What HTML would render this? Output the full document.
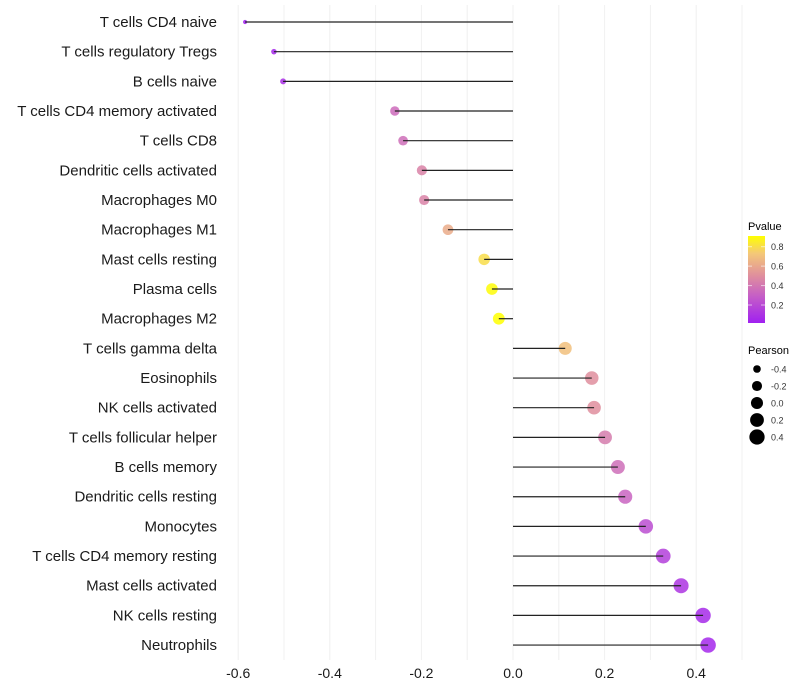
<!DOCTYPE html>
<html><head><meta charset="utf-8"><style>
html,body{margin:0;padding:0;background:#fff;}
svg{display:block;font-family:"Liberation Sans",sans-serif;}
</style></head><body>
<svg id="chart" width="800" height="700">
<defs><linearGradient id="pgrad" x1="0" y1="1" x2="0" y2="0">
<stop offset="0" stop-color="#a020f0"/><stop offset="0.3" stop-color="#c45cc8"/><stop offset="0.55" stop-color="#e0909c"/><stop offset="0.8" stop-color="#f4c878"/><stop offset="1" stop-color="#ffff00"/></linearGradient></defs>
<g id="grid"></g>
<g id="dots"></g>
<g id="marks"></g>
<g id="ylab"></g>
<g id="xlab"></g>
<g>
<text x="748" y="230" font-size="11">Pvalue</text>
<rect x="748" y="236" width="17" height="87" fill="url(#pgrad)"/>
<g id="cbticks"></g>
</g>
<g id="sizeleg">
<text x="748" y="354" font-size="11">Pearson</text>
</g>
</svg>
<script>
const cells=["T cells CD4 naive","T cells regulatory  Tregs","B cells naive","T cells CD4 memory activated","T cells CD8","Dendritic cells activated","Macrophages M0","Macrophages M1","Mast cells resting","Plasma cells","Macrophages M2","T cells gamma delta","Eosinophils","NK cells activated","T cells follicular helper","B cells memory","Dendritic cells resting","Monocytes","T cells CD4 memory resting","Mast cells activated","NK cells resting","Neutrophils"];
const pearson=[-0.585,-0.522,-0.502,-0.258,-0.240,-0.199,-0.194,-0.142,-0.063,-0.046,-0.031,0.114,0.172,0.177,0.201,0.229,0.245,0.290,0.328,0.367,0.415,0.426];
const pvalue=[0.01,0.05,0.08,0.35,0.36,0.45,0.45,0.62,0.8,0.9,0.95,0.7,0.5,0.5,0.42,0.36,0.32,0.22,0.16,0.11,0.06,0.05];
const xticks=[-0.6,-0.4,-0.2,0.0,0.2,0.4];
const cbTicks=[0.2,0.4,0.6,0.8];
const sizeTicks=[-0.4,-0.2,0.0,0.2,0.4];
const NS="http://www.w3.org/2000/svg";
const x=v=>513+v*458;
const y=i=>22+i*29.67;
const r=v=>Math.sqrt(4+55*Math.max(0,v+0.59));
function mk(t,p,a){const e=document.createElementNS(NS,t);for(const k in a)e.setAttribute(k,a[k]);p.appendChild(e);return e;}
const stops=[[0,[160,32,240]],[0.3,[196,92,200]],[0.55,[224,144,156]],[0.8,[244,200,120]],[1,[255,255,0]]];
function col(p){const t=Math.max(0,Math.min(1,(p-0.015)/0.895));for(let i=1;i<stops.length;i++){if(t<=stops[i][0]){const a=stops[i-1],b=stops[i],f=(t-a[0])/(b[0]-a[0]);const c=a[1].map((v,k)=>Math.round(v+(b[1][k]-v)*f));return `rgb(${c})`;}}return "rgb(255,255,0)";}
const g=document.getElementById('grid');
for(let v=-0.6;v<=0.55;v+=0.1){const l=mk('line',g,{x1:x(v),x2:x(v),y1:5,y2:660,stroke:'#f0f0f0','stroke-width':1});}
const m=document.getElementById('marks'),dg=document.getElementById('dots'),yl=document.getElementById('ylab');
cells.forEach((c,i)=>{
 const d=mk('circle',dg,{cx:x(pearson[i]),cy:y(i),r:r(pearson[i]),fill:col(pvalue[i]),'fill-opacity':0.85});
 
 
 const l=mk('line',m,{x1:x(0),x2:x(pearson[i]),y1:y(i),y2:y(i),stroke:'#222','stroke-width':1.2});
 
 
 const t=mk('text',yl,{x:217,y:y(i)+5,'text-anchor':'end','font-size':15,fill:'#1a1a1a'});t.textContent=c;
 
 
});
const xl=document.getElementById('xlab');
xticks.forEach(v=>{const t=mk('text',xl,{x:x(v),y:678,'text-anchor':'middle','font-size':14,fill:'#1a1a1a'});t.textContent=v.toFixed(1);
 
 });
const cb=document.getElementById('cbticks');
cbTicks.forEach(v=>{const yy=323-(v-0.015)/0.895*87;mk('line',cb,{x1:748,x2:752,y1:yy,y2:yy,stroke:'#fff','stroke-opacity':0.6});mk('line',cb,{x1:761,x2:765,y1:yy,y2:yy,stroke:'#fff','stroke-opacity':0.6});
 const t=mk('text',cb,{x:771,y:yy+3.5,'font-size':9,fill:'#333'});t.textContent=v.toFixed(1);
 
 });
const sl=document.getElementById('sizeleg');
sizeTicks.forEach((v,i)=>{const yy=369+i*17;const c=mk('circle',sl,{cx:757,cy:yy,r:r(v),fill:'#000'});
 
 
 const t=mk('text',sl,{x:771,y:yy+3.5,'font-size':9,fill:'#333'});t.textContent=v.toFixed(1);
 
 });
</script>
</body></html>
